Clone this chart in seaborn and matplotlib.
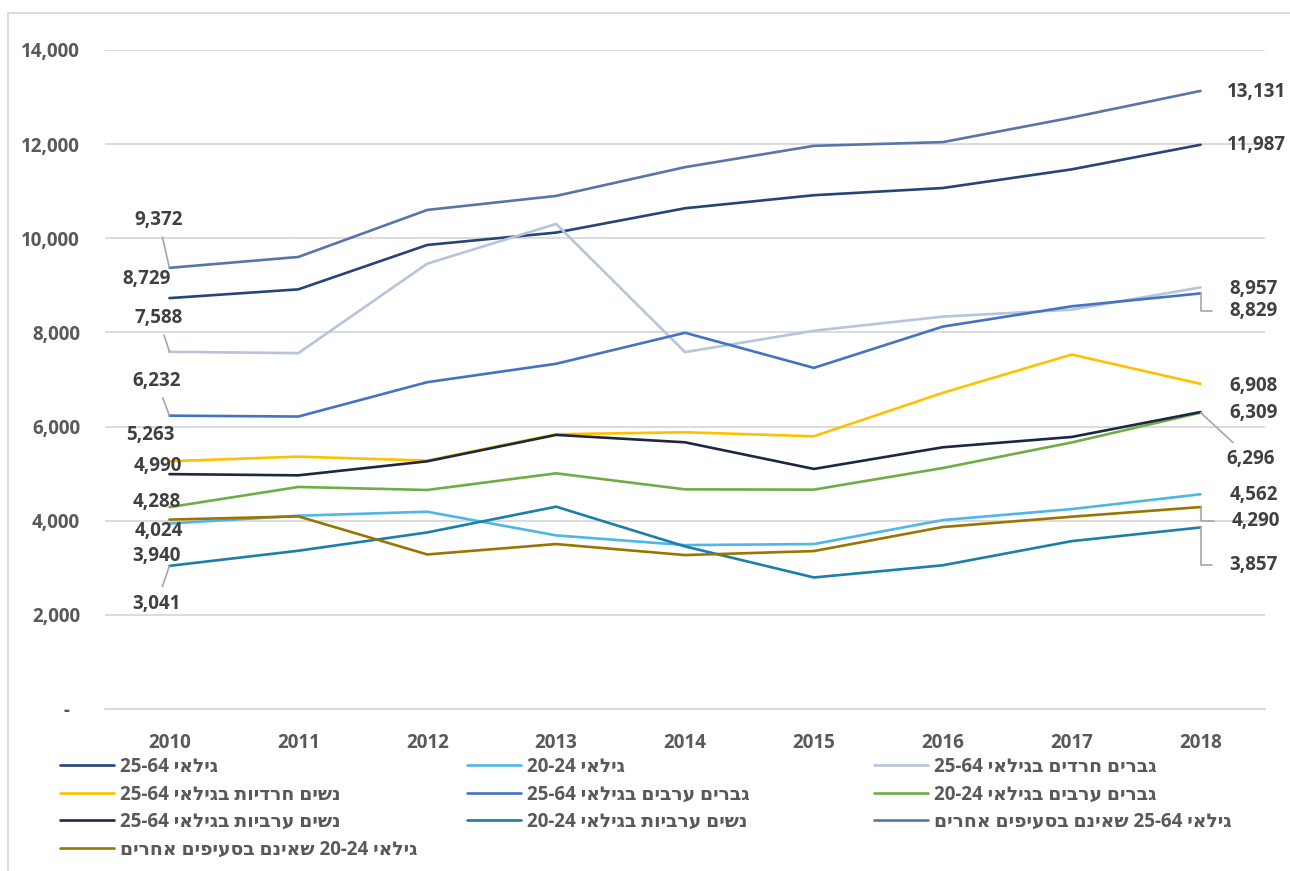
import re
import matplotlib
matplotlib.use('Agg')
from matplotlib import pyplot as plt
from matplotlib.patches import Rectangle
from matplotlib.ticker import FuncFormatter
import seaborn as sns
import pandas as pd

years = [2010, 2011, 2012, 2013, 2014, 2015, 2016, 2017, 2018]

# values, one list per series
all_25_64 = [8729, 8915, 9858, 10121, 10638, 10915, 11068, 11464, 11987]
all_20_24 = [3940, 4106, 4191, 3688, 3482, 3504, 4013, 4247, 4562]
haredi_men_25_64 = [7588, 7560, 9461, 10305, 7582, 8036, 8336, 8483, 8957]
haredi_women_25_64 = [5263, 5362, 5277, 5837, 5879, 5794, 6717, 7530, 6908]
arab_men_25_64 = [6232, 6213, 6943, 7334, 7993, 7247, 8124, 8555, 8829]
arab_men_20_24 = [4288, 4717, 4653, 5007, 4666, 4660, 5119, 5662, 6296]
arab_women_25_64 = [4990, 4964, 5262, 5823, 5666, 5100, 5560, 5779, 6309]
arab_women_20_24 = [3041, 3362, 3751, 4298, 3454, 2794, 3053, 3566, 3857]
other_25_64 = [9372, 9603, 10602, 10900, 11511, 11964, 12043, 12564, 13131]
other_20_24 = [4024, 4092, 3283, 3504, 3270, 3355, 3866, 4085, 4290]

series_names = [
    'גילאי 25-64',
    'גילאי 20-24',
    'גברים חרדים בגילאי 25-64',
    'נשים חרדיות בגילאי 25-64',
    'גברים ערבים בגילאי 25-64',
    'גברים ערבים בגילאי 20-24',
    'נשים ערביות בגילאי 25-64',
    'נשים ערביות בגילאי 20-24',
    'גילאי 25-64 שאינם בסעיפים אחרים',
    'גילאי 20-24 שאינם בסעיפים אחרים',
]
series_values = [all_25_64, all_20_24, haredi_men_25_64, haredi_women_25_64,
                 arab_men_25_64, arab_men_20_24, arab_women_25_64,
                 arab_women_20_24, other_25_64, other_20_24]

colors = ['#264478', '#4fb6e8', '#b7c4da', '#ffc000', '#4472c4',
          '#70ad47', '#1c2841', '#1b7fa7', '#5875a8', '#9a7500']

# label offsets in pixels (dx, dy) for first / last point, and leader style
left_offsets = [(-23, 19), (-13, -32), (-11, 34), (-19, 26), (-13, 35),
                (-13, 5), (-12, 8), (-13, -38), (-11, 48), (-11, -11)]
left_leader = [None, None, 'line', None, 'line', None, None, 'line', 'line', None]
right_offsets = [(56, 0), (53, -1), (53, -2), (53, -2), (53, -18),
                 (50, -46), (53, -1), (53, -38), (56, -1), (55, -14)]
right_leader = [None, None, None, None, 'elbow', 'line', None, 'elbow', None, 'elbow']


def visual(s):
    # matplotlib has no bidi support: lay the Hebrew out right-to-left by hand
    r = s[::-1]
    return re.sub(r'[0-9][0-9,.\-]*[0-9]', lambda m: m.group(0)[::-1], r)


rows = []
for name, vals in zip(series_names, series_values):
    for y, v in zip(years, vals):
        rows.append({'year': y, 'value': v, 'series': name})
df = pd.DataFrame(rows)

sns.set_theme(style='white')
plt.rcParams['font.family'] = ['Open Sans', 'DejaVu Sans']

fig = plt.figure(figsize=(12.9, 8.71), dpi=100)
ax = fig.add_axes([105 / 1290, 1 - 709 / 871, 1160 / 1290, 659 / 871])

sns.lineplot(data=df, x='year', y='value', hue='series', hue_order=series_names,
             palette=dict(zip(series_names, colors)), linewidth=1.9,
             legend=False, ax=ax)

ax.set_xlim(2009.5, 2018.5)
ax.set_ylim(0, 14000)
ax.set_xticks(years)
ax.set_yticks(range(0, 14001, 2000))
ax.yaxis.set_major_formatter(FuncFormatter(lambda v, p: '-  ' if v == 0 else f'{int(v):,}'))
ax.set_xlabel('')
ax.set_ylabel('')
ax.yaxis.grid(True, color='#d9d9d9', lw=1.3)
ax.xaxis.grid(False)
for s in ['left', 'top', 'right']:
    ax.spines[s].set_visible(False)
ax.spines['bottom'].set_color('#d9d9d9')
ax.spines['bottom'].set_linewidth(1.3)
ax.tick_params(axis='both', length=0, labelsize=13.5, labelcolor='#595959')
ax.tick_params(axis='y', pad=18)
ax.tick_params(axis='x', pad=17)
for t in ax.get_xticklabels() + ax.get_yticklabels():
    t.set_fontweight('bold')


def put_label(x, v, off, leader):
    props = None
    if leader == 'line':
        props = dict(arrowstyle='-', color='#a6a6a6', lw=1.2, shrinkA=3, shrinkB=0)
    elif leader == 'elbow':
        props = dict(arrowstyle='-', color='#a6a6a6', lw=1.2, shrinkA=10, shrinkB=0,
                     connectionstyle='angle,angleA=0,angleB=90,rad=0')
    ax.annotate(f'{v:,}', xy=(x, v), xytext=off, textcoords='offset pixels',
                ha='center', va='center', fontsize=13.5, fontweight='bold',
                color='#404040', arrowprops=props)


for i, vals in enumerate(series_values):
    put_label(years[0], vals[0], left_offsets[i], left_leader[i])
    put_label(years[-1], vals[-1], right_offsets[i], right_leader[i])

# legend: three fixed columns, filled row by row
col_x = [60, 467, 874]
for c in range(3):
    idx = list(range(c, len(series_names), 3))
    fig.legend([ax.lines[i] for i in idx], [visual(series_names[i]) for i in idx],
               loc='upper left', bbox_to_anchor=(col_x[c] / 1290, 1 - 757 / 871),
               frameon=False, borderpad=0, borderaxespad=0, handlelength=2.9,
               handletextpad=0.3, labelspacing=0.4,
               prop=dict(size=13.5, weight='bold'), labelcolor='#595959')

# chart-area frame: top and left edges only show in the crop
fig.patches.append(Rectangle((8 / 1290, -0.05), 1.1, 1.05 - 13 / 871,
                             transform=fig.transFigure, fill=False,
                             edgecolor='#d9d9d9', lw=1.3))

fig.savefig('out.png', dpi=100)
plt.close(fig)
